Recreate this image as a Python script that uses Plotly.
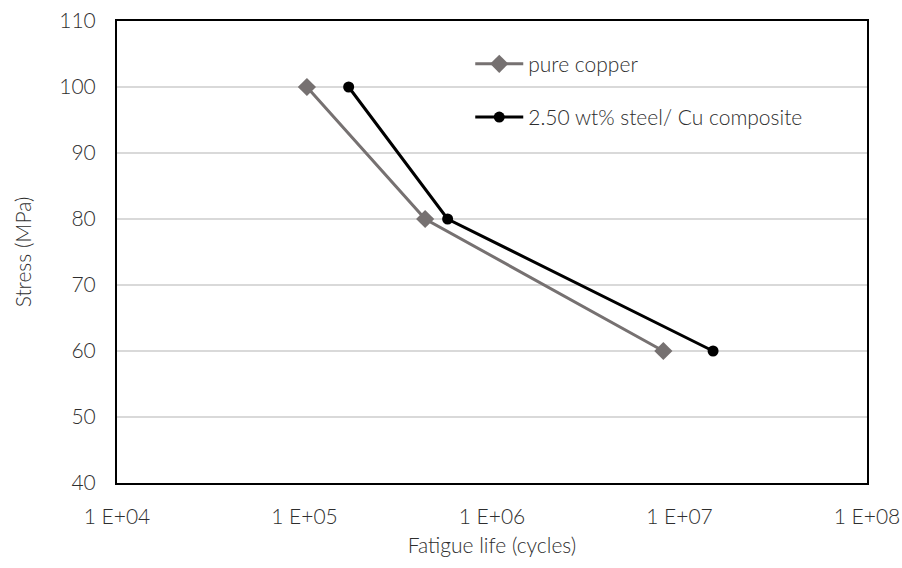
import plotly.graph_objects as go

cycles_copper = [1.03e5, 4.4e5, 8.2e6]
stress_copper = [100, 80, 60]
cycles_comp = [1.72e5, 5.8e5, 1.51e7]
stress_comp = [100, 80, 60]
series_names = ["pure copper", "2.50 wt% steel/ Cu composite"]
x_tickvals = [1e4, 1e5, 1e6, 1e7, 1e8]
x_ticktext = ["1 E+04", "1 E+05", "1 E+06", "1 E+07", "1 E+08"]

FONT = "Lato"
TXT = "#2e2e2e"
FS = 21

fig = go.Figure()
fig.add_trace(go.Scatter(
    x=cycles_copper, y=stress_copper, name=series_names[0], mode="lines+markers",
    line=dict(color="#767171", width=3),
    marker=dict(symbol="diamond", size=14, color="#767171"),
    legendgroup="a"))
fig.add_trace(go.Scatter(
    x=cycles_comp, y=stress_comp, name=series_names[1], mode="lines+markers",
    line=dict(color="#000000", width=3),
    marker=dict(symbol="circle", size=11, color="#000000"),
    legendgroup="b"))

fig.update_layout(
    width=902, height=568,
    margin=dict(l=116.5, r=34.5, t=20.5, b=85),
    paper_bgcolor="white", plot_bgcolor="white",
    font=dict(family=FONT, size=FS, color=TXT, weight=300),
    showlegend=True,
    legend=dict(x=0.471, y=0.951, xanchor="left", yanchor="top",
                bgcolor="rgba(0,0,0,0)", font=dict(size=FS, color=TXT, family=FONT, weight=300),
                traceorder="grouped", tracegroupgap=23, itemwidth=48),
)
fig.update_xaxes(
    type="log", range=[4, 8], tickvals=x_tickvals, ticktext=x_ticktext,
    showgrid=False, showline=True, linecolor="black", linewidth=2, mirror=True,
    ticks="", ticklabelstandoff=14, automargin=False, ticklabeloverflow="allow",
    title=dict(text="Fatigue life (cycles)", font=dict(size=FS, color=TXT, weight=300), standoff=11),
    tickfont=dict(size=FS, color=TXT, weight=300),
)
fig.update_yaxes(
    range=[40, 110], dtick=10, tick0=40,
    showgrid=True, gridcolor="#d9d9d9", gridwidth=1.5,
    showline=True, linecolor="black", linewidth=2, mirror=True, zeroline=False,
    ticks="", ticklabelstandoff=15, automargin=False, ticklabeloverflow="allow",
    title=dict(text="Stress (MPa)", font=dict(size=FS, color=TXT, weight=300), standoff=22),
    tickfont=dict(size=FS, color=TXT, weight=300),
)

fig.write_html(
    "out.html",
    config={"displayModeBar": False},
    post_script="document.body.style.margin='0';document.documentElement.style.overflow='hidden';",
)
